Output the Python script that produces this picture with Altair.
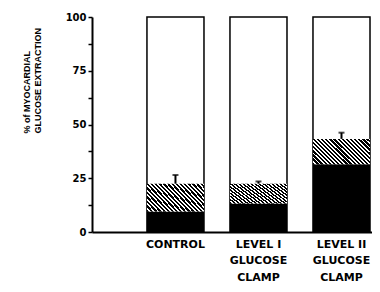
import altair as alt
import pandas as pd

categories = ["CONTROL", "LEVEL I|GLUCOSE|CLAMP", "LEVEL II|GLUCOSE|CLAMP"]
black_part = [9.5, 13.3, 31.5]
total_top = [22.5, 22.5, 43.3]
error_top = [26.5, 23.5, 46.2]
box_top = [100, 100, 100]
box_bottom = [0, 0, 0]
y_ticks = [0, 12.5, 25, 37.5, 50, 62.5, 75, 87.5, 100]

df = pd.DataFrame({
    "cat": categories,
    "black": black_part,
    "top": total_top,
    "err": error_top,
    "box": box_top,
    "zero": box_bottom,
})

n_stripes = 20
black_frac = 0.55
stops = []
for i in range(n_stripes):
    a = i / n_stripes
    b = (i + black_frac) / n_stripes
    c = (i + 1) / n_stripes
    stops += [
        alt.GradientStop(color="black", offset=a),
        alt.GradientStop(color="black", offset=b),
        alt.GradientStop(color="white", offset=b),
        alt.GradientStop(color="white", offset=c),
    ]
hatch_fill = alt.LinearGradient(gradient="linear", stops=stops,
                                x1=0, y1=1, x2=1.206, y2=0.457)

yscale = alt.Scale(domain=[0, 100], nice=False)
yaxis = alt.Axis(
    values=y_ticks,
    labelExpr="datum.value % 25 == 0 ? datum.label : ''",
    tickSize=4, tickWidth=1.5, tickColor="black",
    labelFont="DejaVu Sans", labelFontWeight="bold", labelFontSize=10,
    labelPadding=2, labelColor="black",
    domainWidth=2, domainColor="black", grid=False,
    title=["% of MYOCARDIAL", "GLUCOSE EXTRACTION"],
    titleFont="Liberation Sans", titleFontSize=9, titleFontWeight="bold",
    titleColor="black", titleX=-61, titleY=116, titleAlign="left",
    titleAngle=270, titleLineHeight=11, titleBaseline="bottom",
)
xenc = alt.X(
    "cat:N", sort=categories,
    scale=alt.Scale(paddingInner=0.313, paddingOuter=0.343, align=0.965),
    axis=alt.Axis(
        title=None, ticks=False, labelAngle=0, labelPadding=6,
        labelFont="DejaVu Sans", labelFontWeight="bold", labelFontSize=11,
        labelLineHeight=16.5, labelBaseline="top", labelOverlap=False,
        labelExpr="split(datum.label, '|')",
        domainWidth=2, domainColor="black", labelColor="black",
    ),
)

base = alt.Chart(df).encode(x=xenc)

box = base.mark_bar(fill="white", stroke="black", strokeWidth=1.5).encode(
    y=alt.Y("zero:Q", scale=yscale, axis=yaxis), y2="box:Q")

blackbar = base.mark_bar(color="black").encode(
    y=alt.Y("zero:Q", scale=yscale, axis=yaxis), y2="black:Q")

hatch = base.mark_bar(fill=hatch_fill, strokeWidth=0).encode(
    y=alt.Y("black:Q", scale=yscale, axis=yaxis), y2="top:Q")

err = base.mark_rule(color="black", strokeWidth=2).encode(
    y=alt.Y("top:Q", scale=yscale, axis=yaxis), y2="err:Q")

cap = base.mark_tick(color="black", size=6, thickness=2).encode(
    y=alt.Y("err:Q", scale=yscale, axis=yaxis))

chart = alt.layer(box, blackbar, hatch, err, cap).properties(
    width=280, height=215,
    autosize=alt.AutoSizeParams(type="none"),
    padding={"left": 84, "top": 9, "right": 0, "bottom": 52},
).configure_view(stroke=None)

chart.save("out.html", embed_options={"renderer": "svg", "actions": False})
